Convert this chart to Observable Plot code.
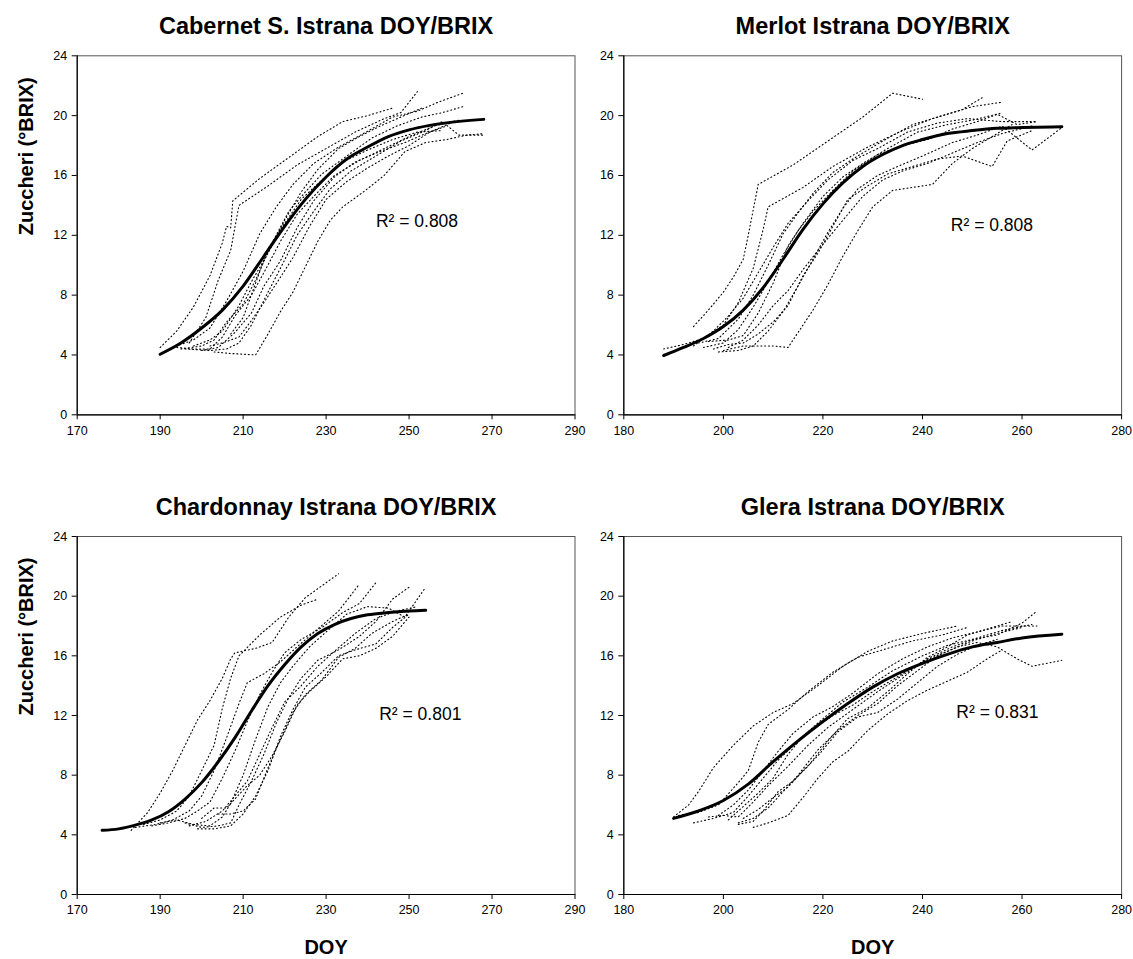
<!DOCTYPE html>
<html>
<head>
<meta charset="utf-8">
<script src="https://cdn.jsdelivr.net/npm/d3@7"></script>
<script src="https://cdn.jsdelivr.net/npm/@observablehq/plot@0.6"></script>
<style>
  html, body { margin: 0; padding: 0; background: #fff; }
  #wrap { position: relative; width: 1133px; height: 959px; font-family: "Liberation Sans", Arial, Helvetica, sans-serif; }
  #wrap > svg { position: absolute; overflow: visible; }
</style>
</head>
<body>
<div id="wrap"></div>
<script>
// ---------- tick values ----------
const xTicksLeft = [170, 190, 210, 230, 250, 270, 290];
const xTicksRight = [180, 200, 220, 240, 260, 280];
const yTicks = [0, 4, 8, 12, 16, 20, 24];

// ---------- titles / labels ----------
const titles = ["Cabernet S. Istrana DOY/BRIX", "Merlot Istrana DOY/BRIX", "Chardonnay Istrana DOY/BRIX", "Glera Istrana DOY/BRIX"];
const yLabel = "Zuccheri (°BRIX)";
const xLabel = "DOY";
const r2Text = ["R² = 0.808", "R² = 0.808", "R² = 0.801", "R² = 0.831"];
const r2Anchor = [[242, 12.9], [245.7, 12.65], [242.8, 12.05], [246.8, 12.2]];

// ---------- Cabernet S. (DOY, °Brix) ----------
const cabernetYears = [
  [[190,4.5],[194,5.6],[198,7.2],[202,9.3],[205,11.5],[206,12.6],[207,12.5],[207.5,14.3],[214,15.8],[221,17.2],[228,18.6],[234,19.6],[240,20.0],[246,20.5]],
  [[197,4.8],[201,6.5],[204,9.0],[207,11.0],[209,14.0],[216,15.3],[223,16.7],[230,17.8],[237,18.9],[244,19.8],[248,20.2],[252,21.6]],
  [[193,4.5],[198,5.0],[202,5.8],[206,7.6],[210,9.6],[214,12.1],[218,13.9],[222,15.4],[227,16.8],[233,17.9],[239,18.8],[246,19.9],[252,20.3],[257,20.9],[263,21.5]],
  [[195,4.4],[200,4.6],[203,5.0],[206,6.2],[210,7.4],[213,9.0],[217,11.5],[221,13.6],[225,14.9],[229,16.1],[235,17.3],[241,18.5],[247,19.3],[253,19.9],[258,20.2],[263,20.6]],
  [[194,4.5],[198,4.4],[202,4.4],[205,5.2],[208,6.6],[212,8.0],[215,9.5],[219,11.6],[223,13.4],[227,14.6],[232,16.0],[238,17.0],[244,17.8],[250,18.6],[256,19.3],[262,19.7]],
  [[196,4.4],[202,4.3],[206,4.4],[209,4.8],[212,6.0],[216,8.2],[219,9.8],[223,12.0],[227,13.6],[231,15.1],[236,16.3],[242,17.3],[248,18.3],[254,19.0],[258,19.6],[262,18.7],[268,18.7]],
  [[203,4.2],[207,4.1],[213,4.0],[216,5.4],[219,6.9],[222,8.2],[225,9.9],[228,11.6],[231,13.0],[234,13.9],[239,14.9],[244,16.0],[249,17.6],[254,18.2],[259,18.4],[264,18.7],[268,18.8]],
  [[200,4.3],[204,4.5],[208,5.5],[212,6.8],[215,8.6],[219,10.3],[223,12.5],[227,14.3],[232,15.9],[237,16.9],[243,17.6],[249,18.2],[254,18.8],[259,19.3]],
  [[198,4.6],[202,5.0],[205,5.6],[209,7.3],[212,8.9],[216,10.8],[220,13.0],[224,14.9],[228,16.4],[233,17.8],[238,18.6],[243,19.3],[248,19.9],[253,20.5]],
  [[202,4.6],[205,4.8],[209,5.2],[212,6.3],[215,7.5],[219,9.2],[222,10.5],[226,12.6],[230,14.4],[235,15.6],[240,16.5],[245,17.3],[250,18.0],[255,18.9],[260,19.5]],
  [[207,5.4],[210,6.5],[213,8.8],[216,11.1],[220,12.8],[224,14.4],[229,15.7],[234,16.9],[240,17.7],[246,18.4],[252,18.9],[258,19.0]]
];
const cabernetFit = [[190,4.05],[195,4.8],[200,5.8],[205,7.0],[210,8.6],[215,10.6],[220,12.6],[225,14.4],[230,15.9],[235,17.1],[240,17.9],[245,18.6],[250,19.05],[255,19.35],[260,19.55],[268,19.75]];

// ---------- Merlot ----------
const merlotYears = [
  [[194,5.9],[197,7.0],[200,8.2],[202,9.2],[204,10.4],[205,12.0],[206,13.7],[207,15.4],[214,16.7],[221,18.3],[228,19.9],[234,21.5],[240,21.1]],
  [[188,4.4],[192,4.7],[196,5.1],[200,6.0],[203,7.5],[206,9.8],[208,12.4],[209,13.9],[216,15.2],[222,16.6],[229,17.9],[236,19.0],[242,19.8],[248,20.4],[252,21.2]],
  [[195,4.8],[199,5.1],[203,6.4],[206,8.0],[209,10.0],[212,12.1],[215,13.5],[218,14.8],[222,16.2],[226,17.1],[232,18.3],[238,19.4],[244,20.0],[250,20.6],[256,20.9]],
  [[197,4.9],[201,5.0],[204,5.3],[207,6.8],[210,8.8],[213,11.3],[216,12.8],[220,14.6],[224,15.9],[228,16.8],[233,17.8],[239,18.9],[245,19.4],[250,19.7],[255,20.1],[259,19.4],[263,19.6]],
  [[199,4.2],[203,4.3],[206,4.6],[209,5.6],[212,6.9],[215,8.6],[218,10.4],[221,12.2],[224,13.8],[227,15.1],[231,16.0],[235,16.6],[240,17.3],[246,18.2],[251,18.7],[256,19.3],[262,17.7],[268,19.2]],
  [[198,4.4],[201,4.7],[204,4.8],[207,5.4],[210,6.2],[213,7.3],[216,9.3],[219,10.8],[222,12.6],[225,14.4],[229,15.3],[233,16.1],[238,16.6],[243,17.1],[248,17.3],[254,16.6],[257,18.3],[262,19.0]],
  [[200,4.3],[204,4.6],[207,4.6],[210,4.6],[213,4.5],[215,5.5],[218,7.0],[221,8.7],[224,10.6],[227,12.3],[230,13.9],[234,15.0],[238,15.2],[242,15.4],[246,16.8],[250,17.8],[254,18.6],[258,19.4]],
  [[196,4.5],[200,4.8],[203,5.7],[206,7.2],[209,8.9],[212,10.7],[215,12.3],[218,13.6],[222,15.0],[226,16.3],[231,17.4],[236,18.0],[241,18.4],[246,19.1],[251,19.6],[256,20.2]],
  [[201,4.5],[204,5.0],[207,6.0],[210,7.3],[213,8.3],[216,9.7],[220,11.4],[224,13.0],[228,14.6],[232,15.7],[236,16.3],[241,16.8],[246,17.5],[251,18.2],[256,18.8],[262,19.3]],
  [[194,4.6],[198,5.6],[201,6.6],[204,7.8],[207,9.5],[210,11.2],[213,12.8],[217,14.3],[221,15.7],[226,17.0],[231,17.8],[237,18.9],[243,19.5],[249,19.8],[256,19.6],[263,19.6]]
];
const merlotFit = [[188,3.96],[192,4.5],[196,5.1],[200,5.9],[204,7.0],[208,8.5],[212,10.4],[216,12.4],[220,14.1],[224,15.5],[228,16.6],[232,17.4],[236,18.0],[240,18.4],[245,18.8],[250,19.0],[255,19.15],[260,19.2],[268,19.25]];

// ---------- Chardonnay ----------
const chardonnayYears = [
  [[183,4.3],[187,5.5],[190,6.8],[193,8.3],[196,10.0],[199,11.7],[202,13.0],[205,14.5],[207,15.8],[208,16.2],[213,16.5],[217,16.9],[221,18.6],[225,19.9],[229,20.7],[233,21.5]],
  [[186,4.7],[190,5.0],[194,5.6],[197,6.6],[200,8.3],[203,10.0],[205,12.5],[207,14.5],[209,16.0],[214,17.4],[219,18.6],[224,19.4],[228,19.8]],
  [[184,4.5],[189,4.7],[193,5.0],[197,5.6],[200,6.6],[203,8.3],[206,10.5],[209,12.8],[211,14.2],[215,14.8],[219,15.6],[223,16.6],[228,17.8],[233,19.0],[238,20.8]],
  [[188,4.6],[192,4.8],[196,5.1],[199,5.6],[202,6.2],[205,7.8],[208,9.6],[211,11.6],[214,13.4],[217,14.9],[220,16.2],[224,17.1],[229,17.9],[234,18.9],[238,19.5],[242,20.9]],
  [[190,4.8],[194,5.0],[198,4.7],[202,4.6],[205,5.2],[207,6.1],[210,8.0],[213,10.4],[216,12.6],[219,14.2],[222,15.3],[226,16.6],[230,17.6],[235,18.8],[240,19.3],[245,19.2],[249,18.6],[254,20.6]],
  [[196,4.8],[200,4.5],[204,4.6],[207,4.8],[209,6.0],[212,7.6],[215,9.4],[218,11.5],[221,13.2],[224,14.5],[228,15.7],[233,16.4],[238,17.3],[242,18.3],[246,19.8],[250,20.6]],
  [[199,4.4],[203,4.4],[207,4.6],[210,5.4],[213,6.6],[216,8.3],[219,10.6],[222,12.4],[225,13.9],[229,14.9],[233,16.0],[237,16.4],[242,16.8],[246,17.9],[250,18.8]],
  [[197,4.6],[201,4.9],[205,5.6],[208,6.6],[211,7.6],[214,9.4],[217,11.2],[220,12.9],[224,14.0],[228,15.3],[232,16.3],[237,17.5],[242,18.5],[247,19.0],[252,19.3]],
  [[200,5.1],[203,5.8],[206,5.8],[208,6.4],[211,7.3],[214,8.0],[217,9.3],[220,10.9],[223,12.7],[226,13.6],[230,14.6],[234,15.8],[238,16.0],[242,16.5],[246,17.3],[250,18.6]],
  [[204,5.4],[207,5.4],[210,5.6],[213,6.4],[216,8.5],[219,10.4],[222,12.2],[225,13.4],[229,14.4],[233,15.9],[237,16.5],[241,17.5],[246,18.3],[250,18.8]]
];
const chardonnayFit = [[176,4.3],[180,4.4],[184,4.65],[188,5.0],[192,5.55],[196,6.4],[200,7.5],[204,8.9],[208,10.5],[212,12.3],[216,14.0],[220,15.4],[224,16.6],[228,17.5],[232,18.1],[236,18.5],[240,18.75],[245,18.9],[250,19.0],[254,19.05]];

// ---------- Glera ----------
const gleraYears = [
  [[190,5.2],[193,6.0],[195,6.9],[198,8.5],[202,10.0],[206,11.3],[210,12.2],[214,12.8],[219,14.0],[224,15.3],[229,16.3],[234,17.0],[240,17.5],[247,18.0]],
  [[191,5.3],[195,5.5],[199,6.0],[203,7.5],[205,8.3],[207,10.2],[209,11.4],[213,12.4],[217,13.6],[222,14.9],[227,15.9],[232,16.4],[238,17.0],[244,17.4],[249,17.9]],
  [[194,4.8],[198,5.1],[202,5.5],[205,6.6],[208,7.8],[211,9.0],[215,10.3],[219,11.5],[224,12.9],[229,13.9],[234,15.0],[240,16.0],[245,16.7],[250,17.1],[255,17.4],[260,18.2],[263,19.0]],
  [[197,5.2],[200,5.3],[203,5.2],[206,6.2],[209,7.3],[213,8.6],[217,10.0],[221,11.2],[226,12.4],[231,13.6],[236,14.7],[241,15.8],[246,16.6],[251,17.2],[256,17.7],[262,18.1]],
  [[203,4.8],[206,5.1],[209,5.8],[212,6.9],[215,8.0],[219,9.7],[223,11.0],[227,12.0],[231,12.8],[235,14.0],[239,15.0],[243,16.0],[247,16.6],[251,16.9],[255,16.6],[259,15.8],[262,15.3],[268,15.7]],
  [[203,4.7],[206,4.9],[208,5.6],[211,6.9],[214,7.6],[217,8.6],[221,10.3],[225,11.8],[229,12.5],[233,13.6],[237,14.8],[241,15.9],[245,16.6],[249,17.4],[253,17.8],[258,18.3]],
  [[206,4.5],[209,4.8],[213,5.3],[216,6.5],[219,7.8],[222,8.9],[225,9.6],[229,11.0],[233,12.1],[237,13.0],[241,13.7],[245,14.3],[249,14.9],[253,15.8],[256,16.4]],
  [[201,5.0],[204,5.9],[207,6.8],[210,7.8],[213,9.4],[216,10.6],[219,11.3],[222,12.0],[226,12.7],[230,13.6],[235,14.6],[240,15.6],[245,16.3],[250,17.0],[255,17.5],[260,17.9]],
  [[199,5.3],[202,6.0],[205,7.0],[208,8.3],[211,9.6],[214,10.8],[218,11.9],[222,12.6],[226,13.5],[231,14.8],[236,15.8],[241,16.6],[246,17.2],[251,17.6],[256,18.0],[263,18.0]],
  [[204,5.1],[207,5.7],[210,6.5],[213,7.2],[216,8.3],[219,9.3],[223,10.9],[227,11.9],[231,12.2],[235,13.1],[239,14.2],[243,15.3],[247,16.1],[251,16.7],[255,17.1]]
];
const gleraFit = [[190,5.1],[195,5.6],[200,6.3],[205,7.4],[210,8.9],[215,10.3],[220,11.6],[225,12.8],[230,13.9],[235,14.8],[240,15.5],[245,16.1],[250,16.6],[255,16.9],[260,17.2],[268,17.45]];

// ---------- build ----------
const FONT = '"Liberation Sans", Arial, Helvetica, sans-serif';
const panels = [
  {years: cabernetYears, fit: cabernetFit, xDomain: [170, 290], xTicks: xTicksLeft, left: 0, top: 0, width: 580, height: 470, mL: 76.7, mR: 5.5, mT: 55.3, mB: 55.7, yLab: true, xLab: false},
  {years: merlotYears, fit: merlotFit, xDomain: [180, 280], xTicks: xTicksRight, left: 580, top: 0, width: 553, height: 470, mL: 43.3, mR: 11.9, mT: 55.3, mB: 55.7, yLab: false, xLab: false},
  {years: chardonnayYears, fit: chardonnayFit, xDomain: [170, 290], xTicks: xTicksLeft, left: 0, top: 470, width: 580, height: 489, mL: 76.7, mR: 5.5, mT: 66, mB: 65, yLab: true, xLab: true},
  {years: gleraYears, fit: gleraFit, xDomain: [180, 280], xTicks: xTicksRight, left: 580, top: 470, width: 553, height: 489, mL: 43.3, mR: 11.9, mT: 66, mB: 65, yLab: false, xLab: true}
];

const wrap = document.getElementById("wrap");
panels.forEach((p, i) => {
  const rows = p.years.flatMap((s, k) => s.map(([x, y]) => ({id: k, x, y})));
  const fitRows = p.fit.map(([x, y]) => ({x, y}));
  const marks = [
    Plot.frame({stroke: "#555", strokeWidth: 1}),
    Plot.line(rows, {x: "x", y: "y", z: "id", stroke: "#000", strokeWidth: 1.1, strokeDasharray: "1 2.8"}),
    Plot.line(fitRows, {x: "x", y: "y", curve: "monotone-x", stroke: "#000", strokeWidth: 3}),
    Plot.ruleY([0], {stroke: "#000", strokeWidth: 1.2}),
    Plot.ruleX([p.xDomain[0]], {stroke: "#000", strokeWidth: 1.2}),
    Plot.axisX({ticks: p.xTicks, tickSize: 5, tickPadding: 6, fontSize: 12.5, label: null, fill: "#000"}),
    Plot.axisY({ticks: yTicks, tickSize: 5, tickPadding: 5, fontSize: 12.5, label: null, fill: "#000"}),
    Plot.text([r2Text[i]], {x: () => r2Anchor[i][0], y: () => r2Anchor[i][1], textAnchor: "start", fontSize: 17.5, fill: "#000"}),
    Plot.text([titles[i]], {frameAnchor: "top", lineAnchor: "middle", dy: -29, fontSize: 23.5, fontWeight: "bold", fill: "#000"})
  ];
  if (p.yLab) marks.push(Plot.text([yLabel], {frameAnchor: "left", lineAnchor: "middle", rotate: -90, dx: -51, fontSize: 20, fontWeight: "bold", fill: "#000"}));
  if (p.xLab) marks.push(Plot.text([xLabel], {frameAnchor: "bottom", lineAnchor: "middle", dy: 53, fontSize: 20, fontWeight: "bold", fill: "#000"}));
  const svg = Plot.plot({
    width: p.width, height: p.height,
    marginLeft: p.mL, marginRight: p.mR, marginTop: p.mT, marginBottom: p.mB,
    x: {domain: p.xDomain},
    y: {domain: [0, 24]},
    style: {background: "transparent", overflow: "visible", fontFamily: FONT, color: "#000"},
    marks
  });
  svg.style.left = p.left + "px";
  svg.style.top = p.top + "px";
  svg.style.maxWidth = "none";
  wrap.appendChild(svg);
});
</script>
</body>
</html>
